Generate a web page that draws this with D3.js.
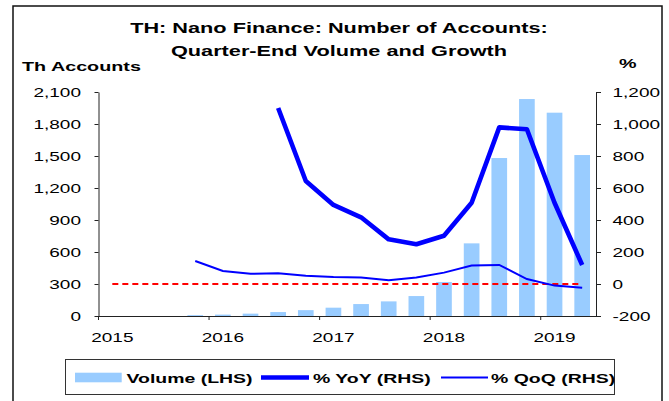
<!DOCTYPE html>
<html>
<head>
<meta charset="UTF-8">
<title>TH: Nano Finance: Number of Accounts</title>
<script src="https://d3js.org/d3.v7.min.js"></script>
<style>
  body { margin: 0; background: #fff; }
  text { font-family: "Liberation Sans", Arial, sans-serif; fill: #000; }
</style>
</head>
<body>
<div id="chart"></div>
<script>
// data
var quarters = ["2015Q1","2015Q2","2015Q3","2015Q4","2016Q1","2016Q2","2016Q3","2016Q4",
                "2017Q1","2017Q2","2017Q3","2017Q4","2018Q1","2018Q2","2018Q3","2018Q4",
                "2019Q1","2019Q2"];
var volume = [null, null, null, 8, 13, 22, 37, 55, 78, 112, 137, 187, 319, 681, 1481, 2034, 1906, 1509];
var yoy = [null, null, null, null, null, null, 1100, 644, 494, 417, 279, 248, 302, 508, 979, 967, 508, 119];
var qoq = [null, null, null, 144, 81, 64, 67, 52, 44, 40, 23, 40, 71, 115, 119, 31, -10, -23];
var zeroLine = quarters.map(function() { return 0; });
var leftTicks = [0, 300, 600, 900, 1200, 1500, 1800, 2100];
var rightTicks = [-200, 0, 200, 400, 600, 800, 1000, 1200];
var yearTicks = ["2015Q1","2016Q1","2017Q1","2018Q1","2019Q1"];
var legendLabels = ["Volume (LHS)", "% YoY (RHS)", "% QoQ (RHS)"];

var width = 669, height = 401;
var SX = 1.52; // the picture's text is stretched sideways
var plotL = 98.5, plotR = 596, plotT = 92, plotB = 316;

var svg = d3.select("#chart").append("svg")
            .attr("width", width)
            .attr("height", height);

// outer frame
svg.append("rect")
   .attr("x", 13).attr("y", 6)
   .attr("width", 649).attr("height", 420)
   .attr("fill", "none")
   .attr("stroke", "#111")
   .attr("stroke-width", 1.5);

function label(x, y, str, size, anchor, bold, sx) {
  return svg.append("text")
            .attr("transform", "translate(" + x + "," + y + ") scale(" + (sx || SX) + ",1)")
            .attr("text-anchor", anchor)
            .attr("font-size", size)
            .attr("font-weight", bold ? "bold" : "normal")
            .text(str);
}

// titles
label(339, 33, "TH: Nano Finance: Number of Accounts:", 14.3, "middle", true);
label(339, 55.5, "Quarter-End Volume and Growth", 14.3, "middle", true);
label(22, 71, "Th Accounts", 13, "start", true);
label(619, 68, "%", 13, "start", true);

// scales
var x = d3.scaleBand()
          .domain(quarters)
          .range([plotL, plotR])
          .paddingInner(0.433)
          .paddingOuter(0.2165);
var yL = d3.scaleLinear().domain([0, 2100]).range([plotB, plotT]);
var yR = d3.scaleLinear().domain([-200, 1200]).range([plotB, plotT]);

var fmt = function(d) { return d3.format(",")(d).replace("\u2212", "-"); };

// bars
svg.append("g")
   .selectAll("rect")
   .data(quarters.filter(function(q, i) { return volume[i] != null; }))
   .enter()
   .append("rect")
   .attr("x", function(q) { return x(q); })
   .attr("width", x.bandwidth())
   .attr("y", function(q) { return yL(volume[quarters.indexOf(q)]); })
   .attr("height", function(q) { return plotB - yL(volume[quarters.indexOf(q)]); })
   .attr("fill", "#99ccff");

function cx(i) { return x(quarters[i]) + x.bandwidth() / 2; }

var line = d3.line()
             .defined(function(d) { return d != null; })
             .x(function(d, i) { return cx(i); })
             .y(function(d) { return yR(d); });

// zero line
svg.append("path")
   .attr("d", line(zeroLine))
   .attr("fill", "none")
   .attr("stroke", "#ff0000")
   .attr("stroke-width", 2)
   .attr("stroke-dasharray", "6,4");

// QoQ
svg.append("path")
   .attr("d", line(qoq))
   .attr("fill", "none")
   .attr("stroke", "#0000ff")
   .attr("stroke-width", 2);

// YoY
svg.append("path")
   .attr("d", line(yoy))
   .attr("fill", "none")
   .attr("stroke", "#0000ff")
   .attr("stroke-width", 4.6)
   .attr("stroke-linejoin", "round");

// axes
var gL = svg.append("g")
            .attr("transform", "translate(" + plotL + ",0)")
            .call(d3.axisLeft(yL).tickValues(leftTicks).tickFormat(fmt).tickSize(4).tickSizeOuter(0));
gL.selectAll("text")
  .attr("x", null)
  .attr("transform", "translate(-17.5,0) scale(" + SX + ",1)");

var gR = svg.append("g")
            .attr("transform", "translate(" + plotR + ",0)")
            .call(d3.axisRight(yR).tickValues(rightTicks).tickFormat(fmt).tickSize(5).tickSizeOuter(0));
gR.selectAll("text")
  .attr("x", null)
  .attr("transform", "translate(16.5,0) scale(" + SX + ",1)");

var gB = svg.append("g")
            .attr("transform", "translate(0," + plotB + ")")
            .call(d3.axisBottom(x).tickValues(yearTicks)
                    .tickFormat(function(q) { return q.slice(0, 4); })
                    .tickSize(4).tickSizeOuter(0));
gB.selectAll(".tick line")
  .attr("x1", -x.step() / 2)
  .attr("x2", -x.step() / 2);
gB.selectAll("text")
  .attr("y", null)
  .attr("dy", null)
  .attr("transform", "translate(0,26) scale(" + SX + ",1)");

svg.selectAll(".domain, .tick line").attr("stroke", "#222");
svg.selectAll(".tick text")
   .attr("font-size", 12.5)
   .attr("font-family", "Liberation Sans, Arial, sans-serif")
   .attr("fill", "#000");

// legend
svg.append("rect")
   .attr("x", 65.5).attr("y", 359.5)
   .attr("width", 549).attr("height", 35)
   .attr("fill", "#fff")
   .attr("stroke", "#333")
   .attr("stroke-width", 1);

var ly = 377.5;
svg.append("rect")
   .attr("x", 75).attr("y", 372.7)
   .attr("width", 46.7).attr("height", 9.6)
   .attr("fill", "#99ccff");
label(126.5, 383, legendLabels[0], 12.8, "start", true);

svg.append("line")
   .attr("x1", 261).attr("x2", 309).attr("y1", ly).attr("y2", ly)
   .attr("stroke", "#0000ff").attr("stroke-width", 4.6);
label(313, 383, legendLabels[1], 12.8, "start", true);

svg.append("line")
   .attr("x1", 441).attr("x2", 488).attr("y1", ly).attr("y2", ly)
   .attr("stroke", "#0000ff").attr("stroke-width", 2);
label(491, 383, legendLabels[2], 12.8, "start", true);
</script>
</body>
</html>
